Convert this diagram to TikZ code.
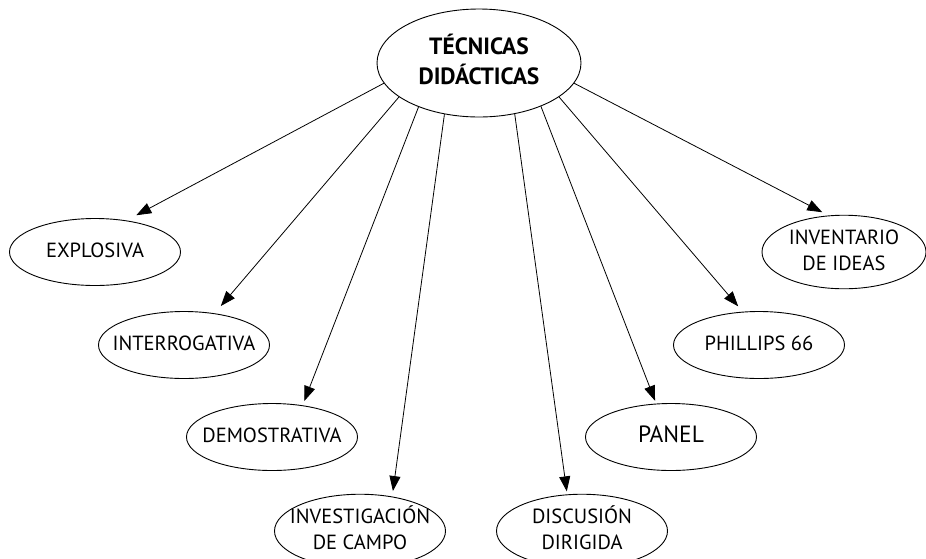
\documentclass[tikz,border=0pt]{standalone}
\usepackage{fontspec}
\setmainfont{PT Sans}
\usetikzlibrary{shapes.geometric,arrows.meta}
\newcommand{\zwtext}[1]{\makebox[0pt][c]{\begin{tabular}{@{}c@{}}#1\end{tabular}}}
\tikzset{
  oval/.style={draw, ellipse, inner sep=0pt, line width=0.9pt, align=center,
    minimum width=171pt, minimum height=67pt, font=\fontsize{20.5}{26}\selectfont},
  arr/.style={line width=0.8pt, -{Triangle[length=15pt,width=11pt]}}
}
\begin{document}
\begin{tikzpicture}[x=1pt,y=-1pt]
\useasboundingbox (0,0) rectangle (926,558);
\node[oval, minimum width=204pt, minimum height=108pt, font=\bfseries\fontsize{23.5}{30}\selectfont] (c) at (479,63) {\zwtext{TÉCNICAS\\DIDÁCTICAS}};
\node[oval] (e1) at (95,252) {\zwtext{EXPLOSIVA}};
\node[oval] (e2) at (184,345) {\zwtext{INTERROGATIVA}};
\node[oval] (e3) at (272,437) {\zwtext{DEMOSTRATIVA}};
\node[oval] (e4) at (360,531) {\zwtext{INVESTIGACIÓN\\DE CAMPO}};
\node[oval] (e5) at (582,531) {\zwtext{DISCUSIÓN\\DIRIGIDA}};
\node[oval, font=\fontsize{23.5}{26}\selectfont] (e6) at (671,437) {\zwtext{PANEL}};
\node[oval] (e7) at (759,345) {\zwtext{PHILLIPS 66}};
\node[oval, minimum width=164pt] (e8) at (844,252) {\zwtext{INVENTARIO\\DE IDEAS}};
\draw[arr, shorten >=11pt] (c.192.3) -- (e1.45.7);
\draw[arr, shorten >=9.5pt] (c.203.1) -- (e2.46.5);
\draw[arr, shorten >=4.5pt] (c.216.4) -- (e3.46.7);
\draw[arr, shorten >=5.5pt] (c.236.8) -- (e4.47.5);
\draw[arr, shorten >=3pt] (c.305.4) -- (e5.112.6);
\draw[arr, shorten >=3pt] (c.325.5) -- (e6.114);
\draw[arr, shorten >=7pt] (c.337.7) -- (e7.116);
\draw[arr, shorten >=7pt] (c.348.5) -- (e8.113.5);
\end{tikzpicture}
\end{document}
